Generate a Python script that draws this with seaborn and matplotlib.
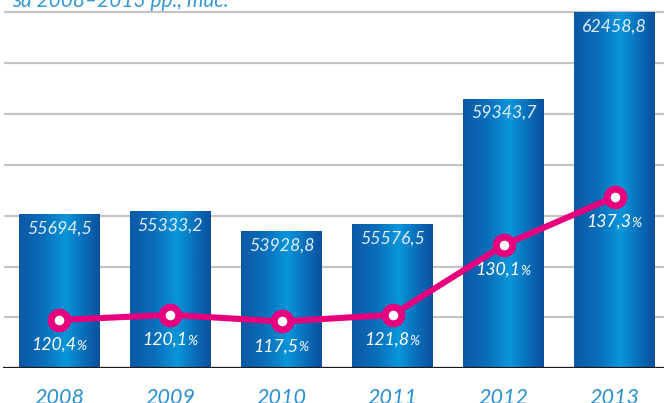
import numpy as np
import pandas as pd
import matplotlib
matplotlib.use("Agg")
import matplotlib.pyplot as plt
from matplotlib.colors import LinearSegmentedColormap
import seaborn as sns

# ---- data ----
years = ["2008", "2009", "2010", "2011", "2012", "2013"]
bar_level = [3.03, 3.09, 2.70, 2.84, 5.30, 7.00]          # bar heights in grid units
bar_labels = ["55694,5", "55333,2", "53928,8", "55576,5", "59343,7", "62458,8"]
line_level = [0.95, 1.05, 0.92, 1.05, 2.42, 3.37]        # line point heights in grid units
pct_labels = ["120,4", "120,1", "117,5", "121,8", "130,1", "137,3"]
title_text = "за 2008–2013 рр., тис."

sns.set_theme(style="white")
plt.rcParams["font.family"] = ["Lato", "DejaVu Sans"]

W, H = 664, 403
fig = plt.figure(figsize=(W / 100, H / 100), dpi=100)
ax = fig.add_axes([3 / W, (H - 368.3) / H, (664 - 3) / W, 368.3 / H])

df = pd.DataFrame({"year": years, "level": bar_level})
sns.barplot(data=df, x="year", y="level", ax=ax, width=0.726, color="#0a72be",
            saturation=1, edgecolor="none", linewidth=0, zorder=2)

ylim = (0, 368.3 / 50.9)
xlim = (-0.507, 5.443)

# horizontal gradient fill in every bar
cmap = LinearSegmentedColormap.from_list(
    "barg", [(0.0, "#0c58a6"), (0.3, "#0a6eba"), (0.58, "#0896da"),
             (0.8, "#0a6eba"), (1.0, "#0a509e")])
grad = np.linspace(0, 1, 256).reshape(1, -1)
for p in ax.patches:
    x0, y0 = p.get_x(), p.get_y()
    w, h = p.get_width(), p.get_height()
    p.set_facecolor("none")
    im = ax.imshow(grad, cmap=cmap, aspect="auto", extent=(x0, x0 + w, y0, y0 + h),
                   zorder=2, interpolation="bicubic")
    im.set_clip_path(p)

# grid lines
for g in range(1, 8):
    ax.axhline(g, color="#c4c4c4", lw=1.6, zorder=1, xmin=(5 - 3) / 661)
ax.axhline(0, color="#1a1a1a", lw=1.6, zorder=4)

# line with markers
ldf = pd.DataFrame({"year": years, "level": line_level})
sns.lineplot(data=ldf, x="year", y="level", ax=ax, color="#e6007e", linewidth=4.4,
             marker="o", markersize=12.0, markeredgewidth=5.0,
             markerfacecolor="white", markeredgecolor="#e6007e", zorder=5,
             sort=False)

txt_font = dict(fontstyle="italic", fontweight="normal")

for i, (lvl, lab) in enumerate(zip(bar_level, bar_labels)):
    ax.annotate(lab, (i, lvl), xytext=(0, -10.5), textcoords="offset points",
                ha="center", va="center", color="#e4eef8", fontsize=12.8,
                zorder=6, **txt_font)

for i, (lvl, lab) in enumerate(zip(line_level, pct_labels)):
    ax.annotate(lab, (i, lvl), xytext=(12, -18), textcoords="offset points",
                ha="right", va="center", color="white", fontsize=12.8,
                zorder=6, **txt_font)
    ax.annotate("%", (i, lvl), xytext=(12, -18.6), textcoords="offset points",
                ha="left", va="center", color="white", fontsize=9.8,
                zorder=6, **txt_font)

ax.set_xlim(*xlim)
ax.set_ylim(*ylim)
ax.set_xlabel("")
ax.set_ylabel("")
ax.set_yticks([])
ax.tick_params(axis="x", length=0, pad=14, labelsize=15.5, labelcolor="#2a8fcf")
for lab in ax.get_xticklabels():
    lab.set_fontstyle("italic")
    lab.set_fontweight("normal")
for s in ax.spines.values():
    s.set_visible(False)
if ax.get_legend() is not None:
    ax.get_legend().remove()

fig.text(12 / W, 1 - 7 / H, title_text, ha="left", va="baseline", color="#3599d6",
         fontsize=15, **txt_font)

fig.savefig("out.png", dpi=100)
